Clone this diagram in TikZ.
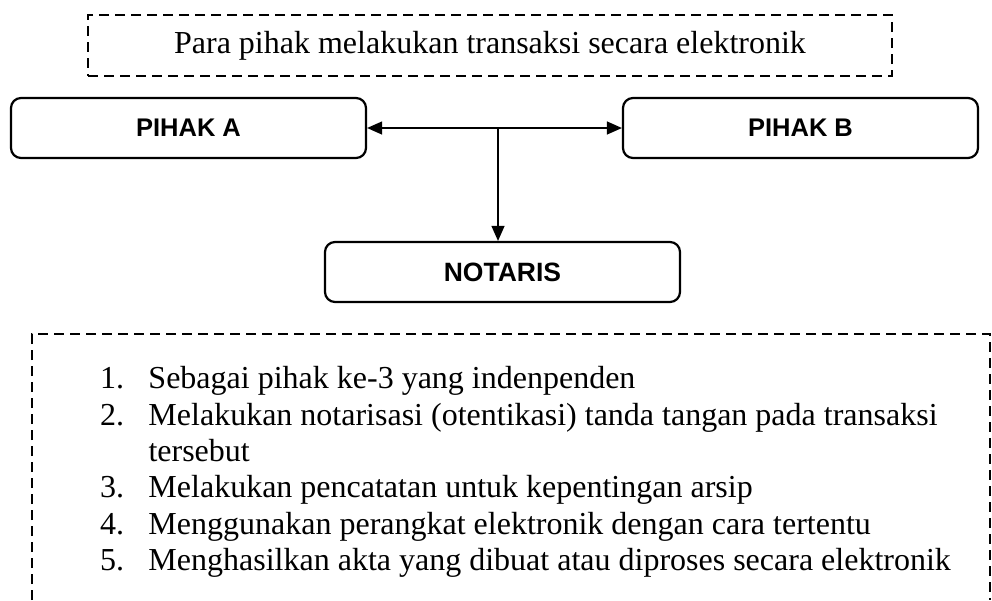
\documentclass[tikz,border=0pt]{standalone}
\usepackage{fontspec}
\setmainfont{Liberation Serif}
\setsansfont{Liberation Sans}
\usepackage{tikz}
\usetikzlibrary{arrows.meta}

\begin{document}
\begin{tikzpicture}[x=1pt, y=-1pt,
    >={Triangle[length=15pt, width=13pt]},
    dashbox/.style={draw, line width=2pt, dash pattern=on 10pt off 6pt},
    pihakbox/.style={draw, line width=2.2pt, rounded corners=10pt,
        minimum width=355pt, minimum height=60pt, inner sep=0pt,
        font=\sffamily\bfseries\fontsize{25.5}{30}\selectfont},
    garis/.style={line width=1.2pt}]
            \useasboundingbox (0,0) rectangle (992,600);

            \node[dashbox, minimum width=804pt, minimum height=61pt,
                font=\fontsize{32}{36}\selectfont] (judul) at (490,45.5)
                {Para pihak melakukan transaksi secara elektronik};

            \node[pihakbox] (pihakA) at (188.5,128) {PIHAK A};
            \node[pihakbox] (pihakB) at (800.5,128) {PIHAK B};
            \node[pihakbox, font=\sffamily\bfseries\fontsize{26.5}{30}\selectfont]
                (notaris) at (502.5,272) {NOTARIS};

            \coordinate (simpang) at (498,128);
            \draw[garis, <->] (pihakA) -- (pihakB);
            \draw[garis, ->] (simpang) -- (simpang |- notaris.north);

            % kotak peran notaris
            \draw[dashbox] (32,600) |- (990,334) -- (990,600);
            \node[anchor=north west, inner sep=0pt, align=left,
                font=\fontsize{32}{36.4}\selectfont] (peran) at (100,366.3) {%
                \makebox[48.3pt][l]{1.}Sebagai pihak ke-3 yang indenpenden\\
                \makebox[48.3pt][l]{2.}Melakukan notarisasi (otentikasi) tanda tangan pada transaksi\\
                \hspace*{48.3pt}tersebut\\
                \makebox[48.3pt][l]{3.}Melakukan pencatatan untuk kepentingan arsip\\
                \makebox[48.3pt][l]{4.}Menggunakan perangkat elektronik dengan cara tertentu\\
                \makebox[48.3pt][l]{5.}Menghasilkan akta yang dibuat atau diproses secara elektronik};
\end{tikzpicture}
\end{document}
